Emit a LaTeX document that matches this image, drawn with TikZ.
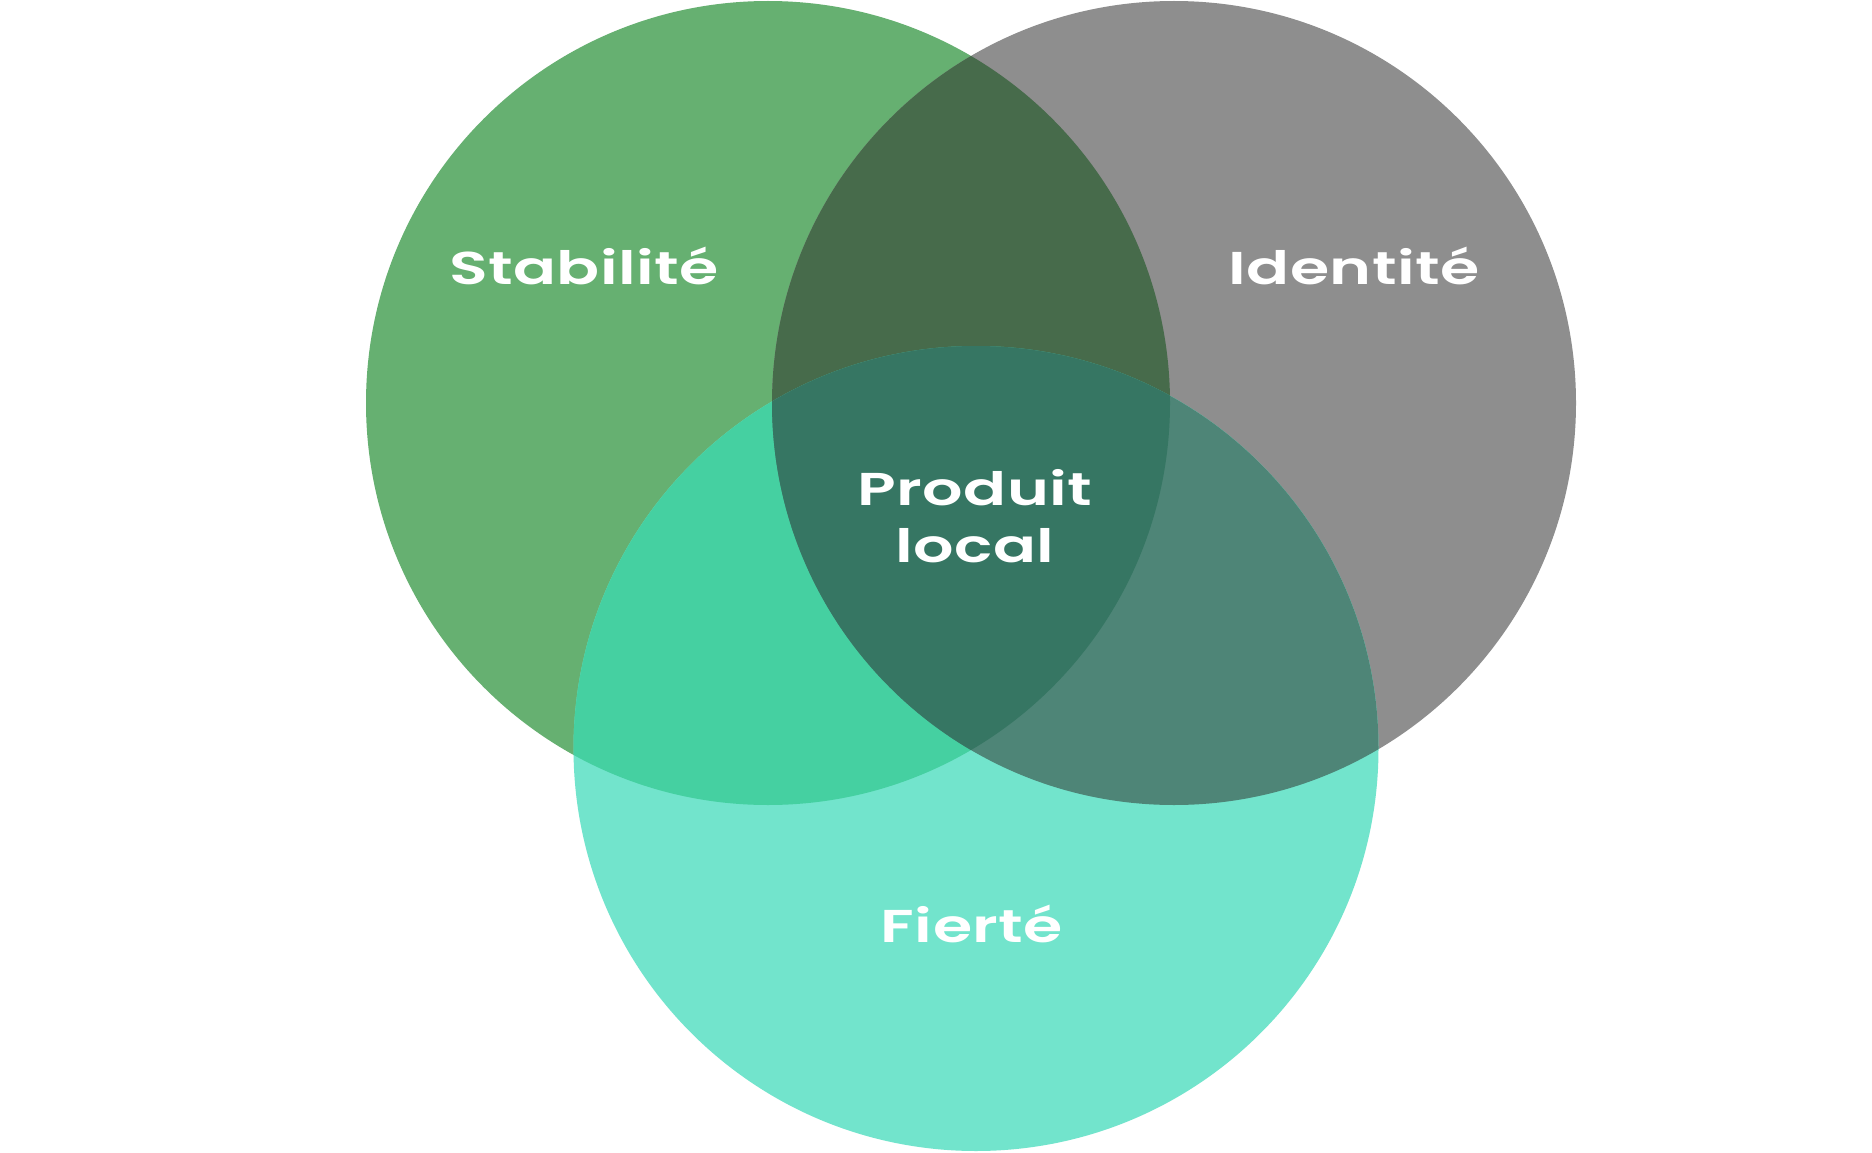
\documentclass[tikz,border=0pt]{standalone}
\usepackage{fontspec}
\newfontfamily\labfont{Poppins}[FakeStretch=1.38, LetterSpace=1, UprightFont=* SemiBold, BoldFont=* SemiBold]
\definecolor{cgreen}{RGB}{102,176,113}
\definecolor{cgray}{RGB}{142,142,142}
\definecolor{cteal}{RGB}{114,228,204}
\definecolor{cgg}{RGB}{71,107,75}
\definecolor{cgt}{RGB}{69,208,161}
\definecolor{crt}{RGB}{78,133,119}
\definecolor{call}{RGB}{54,118,99}
\tikzset{lab/.style={text=white, font=\labfont\fontsize{46}{55}\selectfont, align=center, inner sep=0pt}}
\begin{document}
\begin{tikzpicture}[x=1pt,y=-1pt]
\useasboundingbox (0,0) rectangle (1872,1153);
\fill[white] (0,0) rectangle (1872,1153);
\def\cA{(768,403) circle[radius=402pt]}
\def\cB{(1174,403) circle[radius=402pt]}
\def\cC{(976,748.5) circle[radius=402.5pt]}
\fill[cgreen] \cA;
\fill[cgray] \cB;
\fill[cteal] \cC;
\begin{scope}\clip \cA; \fill[cgg] \cB; \end{scope}
\begin{scope}\clip \cA; \fill[cgt] \cC; \end{scope}
\begin{scope}\clip \cB; \fill[crt] \cC; \end{scope}
\begin{scope}\clip \cA; \clip \cB; \fill[call] \cC; \end{scope}
\node[lab, anchor=base] (stab) at (584,284) {Stabilité};
\node[lab, anchor=base] (iden) at (1354,284) {Identité};
\node[lab, anchor=base] (prod) at (975,505) {Produit};
\node[lab, anchor=base] (loc) at (975,562) {local};
\node[lab, anchor=base] (fier) at (972,942) {Fierté};
\end{tikzpicture}
\end{document}
